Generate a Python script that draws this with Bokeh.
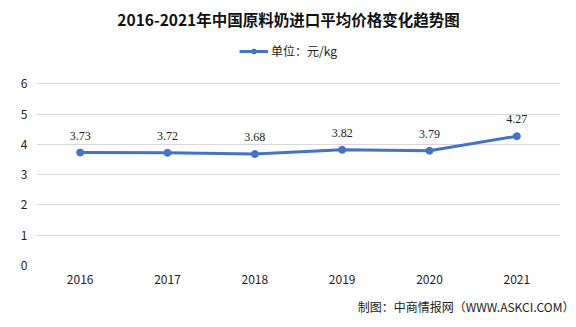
from bokeh.plotting import figure
from bokeh.models import (ColumnDataSource, FixedTicker, Range1d, Label, Legend, LegendItem, Title)
from bokeh.embed import file_html
from bokeh.resources import INLINE

years = ["2016", "2017", "2018", "2019", "2020", "2021"]
prices = [3.73, 3.72, 3.68, 3.82, 3.79, 4.27]
y_ticks = [0, 1, 2, 3, 4, 5, 6]
title_text = "2016-2021年中国原料奶进口平均价格变化趋势图"
legend_text = "单位：元/kg"
source_text = "制图：中商情报网（WWW.ASKCI.COM）"

FONT = "Noto Sans CJK SC"
BLUE = "#4472C4"

xs = list(range(len(years)))
src = ColumnDataSource(dict(x=xs, y=prices, lbl=[f"{v:.2f}" for v in prices]))

p = figure(width=576, height=327, output_backend="svg", toolbar_location=None,
           x_range=Range1d(-0.5, len(years) - 0.5), y_range=Range1d(0, 8.75),
           min_border_left=36, min_border_right=16, min_border_top=0, min_border_bottom=62)
p.outline_line_color = None
p.background_fill_color = "white"
p.border_fill_color = "white"

# axes
p.xaxis.ticker = FixedTicker(ticks=xs)
p.xaxis.major_label_overrides = {i: y for i, y in enumerate(years)}
p.yaxis.ticker = FixedTicker(ticks=y_ticks)
for ax in (p.xaxis[0], p.yaxis[0]):
    ax.axis_line_color = None
    ax.major_tick_line_color = None
    ax.minor_tick_line_color = None
    ax.major_label_text_font = FONT
    ax.major_label_text_font_size = "12px"
    ax.major_label_text_color = "#222222"
p.xaxis.major_label_standoff = 3
p.yaxis.major_label_standoff = 3
p.xgrid.grid_line_color = None
p.ygrid.grid_line_color = "#d9d9d9"
p.ygrid.grid_line_width = 1

# series
ln = p.line("x", "y", source=src, line_color=BLUE, line_width=3)
pts = p.scatter("x", "y", source=src, size=7, fill_color=BLUE, line_color=BLUE)
p.text("x", "y", text="lbl", source=src, text_font=FONT, text_font_size="12px",
       text_color="#222222", text_align="center", text_baseline="middle", y_offset=-17)

# title
p.add_layout(Label(x=2.386, y=8.13, text=title_text, text_font=FONT, text_font_size="15.5px",
                   text_font_style="bold", text_color="#111111", text_align="center",
                   text_baseline="middle"))

# legend
legend = Legend(items=[LegendItem(label=legend_text, renderers=[ln, pts])],
                location=(203, 206), orientation="horizontal",
                label_text_font=FONT, label_text_font_size="12px", label_text_color="#222222",
                background_fill_alpha=0, border_line_color=None,
                glyph_width=29, glyph_height=12, label_standoff=3, padding=0, margin=0)
p.add_layout(legend)

# source note
p.add_layout(Title(text=source_text, align="right", text_font=FONT, text_font_size="12px",
                   text_font_style="normal", text_color="#222222", standoff=18, offset=-14),
             "below")

open("out.html", "w").write(file_html(p, INLINE))
